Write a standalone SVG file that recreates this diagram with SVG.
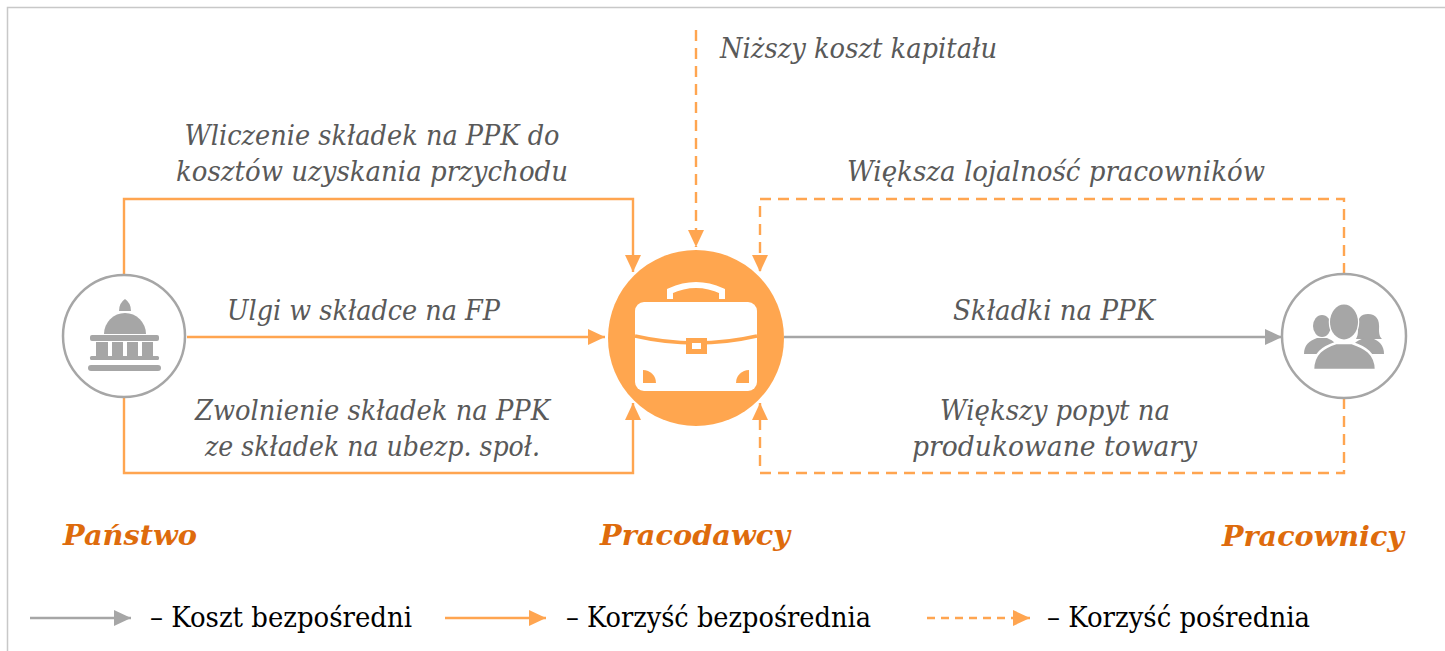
<svg xmlns="http://www.w3.org/2000/svg" width="1445" height="651" viewBox="0 0 1445 651">
  <defs>
    <marker id="ao" markerUnits="userSpaceOnUse" markerWidth="18" markerHeight="16" refX="17" refY="8" orient="auto">
      <path d="M0,0 L17,8 L0,16 Z" fill="#FFA550"/>
    </marker>
    <marker id="ag" markerUnits="userSpaceOnUse" markerWidth="18" markerHeight="16" refX="17" refY="8" orient="auto">
      <path d="M0,0 L17,8 L0,16 Z" fill="#A6A6A6"/>
    </marker>
  </defs>
  <style>
    .lbl { font-family: "DejaVu Serif", "Liberation Serif", serif; font-style: italic; font-size: 27px; fill: #595959; }
    .ttl { font-family: "DejaVu Serif", "Liberation Serif", serif; font-style: italic; font-weight: bold; font-size: 28px; fill: #DE6B0C; }
    .leg { font-family: "DejaVu Serif", "Liberation Serif", serif; font-size: 28px; fill: #000000; }
    .o { fill: none; stroke: #FFA550; stroke-width: 2.4; }
    .od { fill: none; stroke: #FFA550; stroke-width: 2.4; stroke-dasharray: 11 7; }
    .g { fill: none; stroke: #A6A6A6; stroke-width: 2.4; }
    .ic { fill: #A6A6A6; }
  </style>
  <rect width="1445" height="651" fill="#FFFFFF"/>
  <path d="M7.5,651 L7.5,7.5 L1445,7.5" fill="none" stroke="#C8C8C8" stroke-width="1.5"/>

  <g id="connectors">
    <path class="o" d="M124,274 L124,199 L633,199 L633,272" marker-end="url(#ao)"/>
    <path class="o" d="M187,337 L605,337" marker-end="url(#ao)"/>
    <path class="o" d="M124,398 L124,473 L633,473 L633,403" marker-end="url(#ao)"/>
    <path class="od" d="M696,30 L696,247" marker-end="url(#ao)"/>
    <path class="od" d="M1344,274 L1344,199 L760,199 L760,272" marker-end="url(#ao)"/>
    <path class="od" d="M1344,398 L1344,473 L760,473 L760,403" marker-end="url(#ao)"/>
    <path class="g" d="M784,337 L1282,337" marker-end="url(#ag)"/>
  </g>

  <g id="labels">
    <text class="lbl" x="372" y="145" text-anchor="middle" textLength="375" lengthAdjust="spacingAndGlyphs">Wliczenie składek na PPK do</text>
    <text class="lbl" x="372" y="181" text-anchor="middle" textLength="392" lengthAdjust="spacingAndGlyphs">kosztów uzyskania przychodu</text>
    <text class="lbl" x="363.5" y="320" text-anchor="middle" textLength="273" lengthAdjust="spacingAndGlyphs">Ulgi w składce na FP</text>
    <text class="lbl" x="372.5" y="420" text-anchor="middle" textLength="355" lengthAdjust="spacingAndGlyphs">Zwolnienie składek na PPK</text>
    <text class="lbl" x="372.5" y="456" text-anchor="middle" textLength="335" lengthAdjust="spacingAndGlyphs">ze składek na ubezp. społ.</text>
    <text class="lbl" x="720" y="58" textLength="277" lengthAdjust="spacingAndGlyphs">Niższy koszt kapitału</text>
    <text class="lbl" x="1056" y="181" text-anchor="middle" textLength="418" lengthAdjust="spacingAndGlyphs">Większa lojalność pracowników</text>
    <text class="lbl" x="1054" y="320" text-anchor="middle" textLength="202" lengthAdjust="spacingAndGlyphs">Składki na PPK</text>
    <text class="lbl" x="1055" y="420" text-anchor="middle" textLength="230" lengthAdjust="spacingAndGlyphs">Większy popyt na</text>
    <text class="lbl" x="1054.5" y="456" text-anchor="middle" textLength="285" lengthAdjust="spacingAndGlyphs">produkowane towary</text>
  </g>

  <g id="panstwo">
    <circle cx="124" cy="336" r="61" fill="#FFFFFF" stroke="#A6A6A6" stroke-width="2.5"/>
    <path class="ic" d="M125,299 Q131,303 131,311 L119,311 Q119,303 125,299 Z"/>
    <path class="ic" d="M104,334 A21,21 0 0 1 146,334 Z"/>
    <rect class="ic" x="90" y="335" width="69" height="6" rx="2"/>
    <rect class="ic" x="96" y="342" width="12" height="14"/>
    <rect class="ic" x="112" y="342" width="11" height="14"/>
    <rect class="ic" x="127" y="342" width="11" height="14"/>
    <rect class="ic" x="142" y="342" width="11" height="14"/>
    <rect class="ic" x="90" y="356" width="69" height="4" rx="1.5"/>
    <rect class="ic" x="88" y="365" width="73" height="6" rx="3"/>
    <text class="ttl" x="63" y="545" textLength="134" lengthAdjust="spacingAndGlyphs">Państwo</text>
  </g>

  <g id="pracodawcy">
    <circle cx="696" cy="338" r="88" fill="#FFA64F"/>
    <path d="M670,299 L670,291 Q696,279 722,291 L722,299" fill="none" stroke="#FFFFFF" stroke-width="6"/>
    <rect x="635" y="302" width="122" height="89" rx="9" fill="#FFFFFF"/>
    <path d="M635,336 Q696,350 757,336" fill="none" stroke="#FFA64F" stroke-width="3.5"/>
    <rect x="686" y="338" width="21" height="16" fill="#FFA64F"/>
    <rect x="692" y="343" width="9" height="6" fill="#FFFFFF"/>
    <path d="M643,383 L643,370 A13,13 0 0 1 656,383 Z" fill="#FFA64F"/>
    <path d="M749,383 L749,370 A13,13 0 0 0 736,383 Z" fill="#FFA64F"/>
    <text class="ttl" x="600" y="545" textLength="190" lengthAdjust="spacingAndGlyphs">Pracodawcy</text>
  </g>

  <g id="pracownicy">
    <circle cx="1344" cy="336" r="62" fill="#FFFFFF" stroke="#A6A6A6" stroke-width="2.5"/>
    <ellipse class="ic" cx="1322" cy="326" rx="9" ry="11"/>
    <path class="ic" d="M1304,354 C1304,345 1309,341 1317,338 L1327,338 C1334,341 1338,344 1338,354 Z"/>
    <path class="ic" d="M1358,330 C1357,317 1361,314 1368,314 C1376,314 1380,319 1379,330 C1379,336 1381,338 1382,339 L1356,339 C1357,337 1358,335 1358,330 Z"/>
    <path class="ic" d="M1350,354 C1350,345 1356,341 1364,338 L1372,338 C1379,341 1384,345 1384,354 Z"/>
    <ellipse class="ic" cx="1344" cy="322" rx="14" ry="17.5" stroke="#FFFFFF" stroke-width="2.5"/>
    <path class="ic" d="M1313,370 C1313,353 1324,347 1336,343 L1352,343 C1364,347 1376,353 1376,370 Z" stroke="#FFFFFF" stroke-width="2.5"/>
    <ellipse class="ic" cx="1344" cy="322" rx="14" ry="17.5"/>
    <text class="ttl" x="1222" y="546" textLength="182" lengthAdjust="spacingAndGlyphs">Pracownicy</text>
  </g>

  <g id="legend">
    <path class="g" d="M30,618 L131,618" marker-end="url(#ag)"/>
    <text class="leg" x="150" y="627" textLength="262" lengthAdjust="spacingAndGlyphs">– Koszt bezpośredni</text>
    <path class="o" d="M445,618 L546,618" marker-end="url(#ao)"/>
    <text class="leg" x="566" y="627" textLength="305" lengthAdjust="spacingAndGlyphs">– Korzyść bezpośrednia</text>
    <path class="o" d="M927,618 L1030,618" stroke-dasharray="8 6" marker-end="url(#ao)"/>
    <text class="leg" x="1047" y="627" textLength="263" lengthAdjust="spacingAndGlyphs">– Korzyść pośrednia</text>
  </g>
</svg>
